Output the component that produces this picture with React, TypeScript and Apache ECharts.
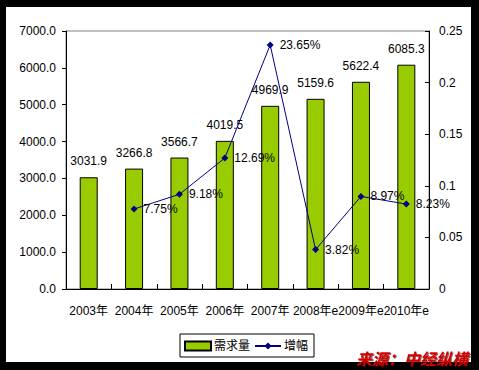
import React, { useEffect, useRef } from "react";
import * as echarts from "echarts";

const categories = ["2003年", "2004年", "2005年", "2006年", "2007年", "2008年e", "2009年e", "2010年e"];
const demand = [3031.9, 3266.8, 3566.7, 4019.5, 4969.9, 5159.6, 5622.4, 6085.3];
const growth = [null, 0.0775, 0.0918, 0.1269, 0.2365, 0.0382, 0.0897, 0.0823];
const leftTicks = { min: 0, max: 7000, interval: 1000 };
const rightTicks = { min: 0, max: 0.25, interval: 0.05 };

const FONT = 'Arial, "Liberation Sans", "Noto Sans CJK SC", sans-serif';

export default function App() {
  const ref = useRef<HTMLDivElement>(null);
  useEffect(() => {
    if (!ref.current) return;
    const chart = echarts.init(ref.current, undefined, { renderer: "svg" });
    chart.setOption({
      animation: false,
      backgroundColor: "#000",
      textStyle: { fontFamily: FONT },
      graphic: [
        { type: "rect", z: -10, silent: true, shape: { x: 6, y: 7, width: 465, height: 355 }, style: { fill: "#fff" } },
        {
          type: "text",
          z: 100,
          left: 356,
          top: 350,
          style: {
            text: "来源：中经纵横",
            fill: "#d40000",
            font: 'italic bold 16px "Noto Sans CJK SC", sans-serif',
            textShadowColor: "rgba(60,0,0,0.6)",
            textShadowBlur: 1,
            textShadowOffsetX: 1,
            textShadowOffsetY: 1,
          },
        },
      ],
      grid: {
        left: 66,
        right: 50,
        top: 31,
        bottom: 81,
        show: true,
        borderColor: "#808080",
        borderWidth: 1,
        backgroundColor: "transparent",
      },
      legend: {
        left: 180,
        top: 334,
        padding: [6, 6, 5, 4],
        borderColor: "#000",
        borderWidth: 1,
        itemWidth: 26,
        itemHeight: 9,
        itemGap: 4,
        textStyle: { fontSize: 12, color: "#000", fontFamily: FONT, padding: [0, 0, 0, -2] },
        data: [
          { name: "需求量", icon: "rect" },
          { name: "增幅" },
        ],
      },
      xAxis: {
        type: "category",
        data: categories,
        boundaryGap: true,
        axisLine: { lineStyle: { color: "#000", width: 1 } },
        axisTick: { show: true, inside: true, length: 5, lineStyle: { color: "#000" } },
        axisLabel: { interval: 0, margin: 16, fontSize: 12, color: "#000", fontFamily: FONT },
        splitLine: { show: false },
      },
      yAxis: [
        {
          type: "value",
          ...leftTicks,
          axisLine: { show: true, lineStyle: { color: "#000", width: 1 } },
          axisTick: { show: true, length: 4, lineStyle: { color: "#000" } },
          axisLabel: { margin: 10, fontSize: 12, color: "#000", fontFamily: FONT, formatter: (v: number) => v.toFixed(1) },
          splitLine: { show: false },
        },
        {
          type: "value",
          ...rightTicks,
          position: "right",
          axisLine: { show: true, lineStyle: { color: "#000", width: 1 } },
          axisTick: { show: true, inside: true, length: 4, lineStyle: { color: "#000" } },
          axisLabel: { margin: 10, fontSize: 12, color: "#000", fontFamily: FONT },
          splitLine: { show: false },
        },
      ],
      series: [
        {
          name: "需求量",
          type: "bar",
          data: demand,
          barWidth: 18,
          itemStyle: { color: "#99cc00", borderColor: "#000", borderWidth: 1 },
          label: {
            show: true,
            position: "top",
            distance: 10,
            fontSize: 12,
            color: "#000",
            fontFamily: FONT,
            formatter: (p: any) => Number(p.value).toFixed(1),
          },
        },
        {
          name: "增幅",
          type: "line",
          yAxisIndex: 1,
          data: growth,
          connectNulls: false,
          symbol: "diamond",
          symbolSize: 7,
          lineStyle: { color: "#000080", width: 1 },
          itemStyle: { color: "#000080" },
          z: 5,
          label: {
            show: true,
            position: "right",
            distance: 6,
            fontSize: 12,
            color: "#000",
            fontFamily: FONT,
            formatter: (p: any) => (p.value == null ? "" : (Number(p.value) * 100).toFixed(2) + "%"),
          },
        },
      ],
    });
    return () => chart.dispose();
  }, []);
  return <div ref={ref} style={{ position: "fixed", left: 0, top: 0, width: 479, height: 370 }} />;
}
